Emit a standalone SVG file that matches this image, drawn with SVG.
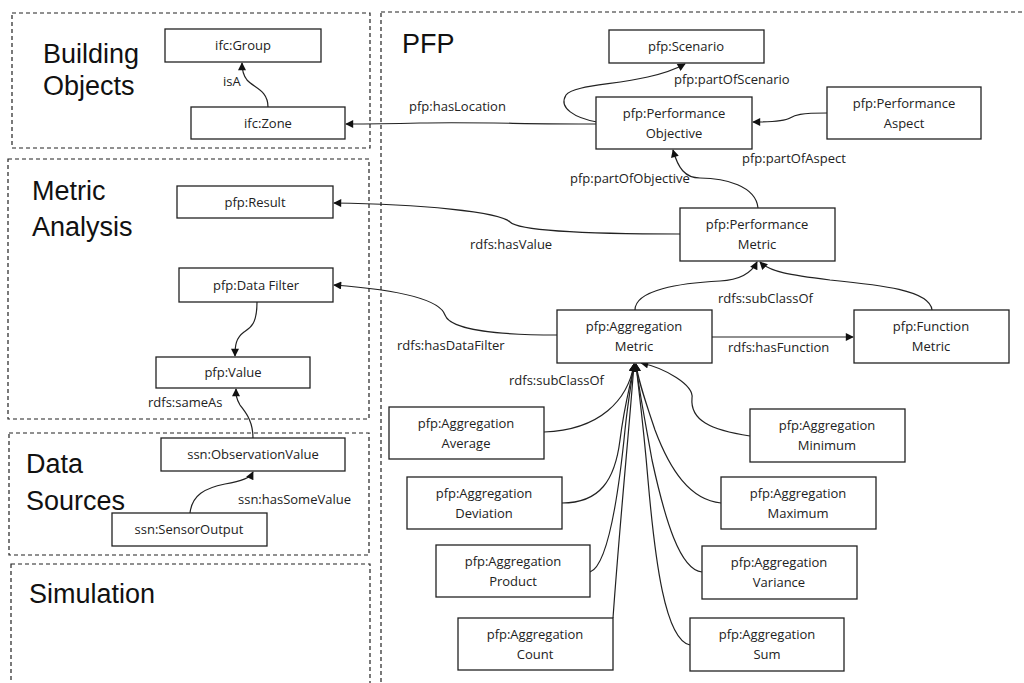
<svg xmlns="http://www.w3.org/2000/svg" width="1024" height="683" viewBox="0 0 1024 683">
<style>
.panel{fill:none;stroke:#222;stroke-width:1.2;stroke-dasharray:4,3}
.title{font-family:"Liberation Sans","Open Sans",sans-serif;font-size:27px;fill:#111}
.box{fill:#fff;stroke:#222;stroke-width:1.3}
.t{font-family:"Open Sans","Liberation Sans",sans-serif;font-size:13px;fill:#222;text-anchor:middle}
.lbl{font-family:"Open Sans","Liberation Sans",sans-serif;font-size:13px;fill:#222}
.c{fill:none;stroke:#222;stroke-width:1.2;marker-end:url(#ah)}
</style>
<defs>
<marker id="ah" viewBox="0 0 10 10" refX="9" refY="5" markerWidth="9" markerHeight="8" markerUnits="userSpaceOnUse" orient="auto">
<path d="M0,0 L10,5 L0,10 Z" fill="#111"/>
</marker>
</defs>
<rect width="1024" height="683" fill="#fff"/>
<g id="panels">
<rect class="panel" x="12" y="13" width="358" height="135"/>
<rect class="panel" x="8" y="159" width="361" height="260"/>
<rect class="panel" x="9" y="433" width="360" height="122"/>
<rect class="panel" x="11" y="564" width="359" height="140"/>
<rect class="panel" x="381" y="12" width="660" height="690"/>
<text class="title" x="43" y="63">Building</text>
<text class="title" x="43" y="95">Objects</text>
<text class="title" x="32" y="200">Metric</text>
<text class="title" x="32" y="236">Analysis</text>
<text class="title" x="26" y="473">Data</text>
<text class="title" x="26" y="510">Sources</text>
<text class="title" x="29" y="603">Simulation</text>
<text class="title" x="402" y="53">PFP</text>
</g>
<g id="connectors">
<path class="c" d="M268,107 C268,90 254,88 247,80 C243,75 242,70 242,63"/>
<path class="c" d="M596,124 C520,124 480,122 420,123 C380,124 360,124 346,124"/>
<path class="c" d="M597,122 C575,118 558,108 566,95 C575,82 645,86 685,64"/>
<path class="c" d="M827,113 C800,113 795,115 790,118 C785,121 770,122 753,122"/>
<path class="c" d="M758,208 C756,186 725,178 700,178 C685,178 678,168 673,150"/>
<path class="c" d="M680,234 C600,234 520,232 510,222 C500,212 420,204 334,203"/>
<path class="c" d="M557,335 C500,335 450,330 445,315 C440,300 400,290 334,285"/>
<path class="c" d="M712,337 L853,337"/>
<path class="c" d="M635,310 C635,290 680,283 720,281 C740,280 752,272 757,262"/>
<path class="c" d="M932,310 C930,290 880,285 830,280 C790,275 770,272 760,262"/>
<path class="c" d="M257,302 C257,325 250,328 244,332 C236,338 235,345 235,356"/>
<path class="c" d="M253,438 C253,420 245,412 240,405 C236,398 236,395 236,389"/>
<path class="c" d="M190,513 C192,495 205,488 225,484 C242,481 250,478 253,472"/>
<path class="c" d="M544,432 C600,430 628,400 634,364"/>
<path class="c" d="M562,503 C600,503 615,480 620,440 C625,400 632,380 634,364"/>
<path class="c" d="M590,572 C610,565 620,480 625,430 C628,400 632,380 634,364"/>
<path class="c" d="M613,618 C620,520 630,420 634,364"/>
<path class="c" d="M750,436 C710,430 690,420 692,398 C694,385 665,368 641,363"/>
<path class="c" d="M721,503 C690,500 670,470 655,430 C645,400 638,380 636,364"/>
<path class="c" d="M702,572 C680,570 665,520 652,460 C645,420 638,385 636,364"/>
<path class="c" d="M690,645 C665,640 655,560 648,480 C643,420 638,385 636,364"/>
<text class="lbl" x="223" y="86">isA</text>
<text class="lbl" x="409" y="111">pfp:hasLocation</text>
<text class="lbl" x="674" y="84">pfp:partOfScenario</text>
<text class="lbl" x="742" y="163">pfp:partOfAspect</text>
<text class="lbl" x="570" y="183">pfp:partOfObjective</text>
<text class="lbl" x="470" y="249">rdfs:hasValue</text>
<text class="lbl" x="718" y="303">rdfs:subClassOf</text>
<text class="lbl" x="397" y="350">rdfs:hasDataFilter</text>
<text class="lbl" x="728" y="352">rdfs:hasFunction</text>
<text class="lbl" x="509" y="385">rdfs:subClassOf</text>
<text class="lbl" x="148" y="407">rdfs:sameAs</text>
<text class="lbl" x="238" y="504">ssn:hasSomeValue</text>
</g>
<g id="ifc-group"><rect class="box" x="165" y="29" width="156" height="33"/><text class="t" x="243" y="50">ifc:Group</text></g>
<g id="ifc-zone"><rect class="box" x="191" y="107" width="154" height="32"/><text class="t" x="268" y="128">ifc:Zone</text></g>
<g id="pfp-scenario"><rect class="box" x="609" y="30" width="155" height="33"/><text class="t" x="686" y="51">pfp:Scenario</text></g>
<g id="pfp-objective"><rect class="box" x="596" y="97" width="156" height="52"/><text class="t" x="674" y="118">pfp:Performance</text><text class="t" x="674" y="138">Objective</text></g>
<g id="pfp-aspect"><rect class="box" x="827" y="87" width="154" height="52"/><text class="t" x="904" y="108">pfp:Performance</text><text class="t" x="904" y="128">Aspect</text></g>
<g id="pfp-result"><rect class="box" x="177" y="186" width="156" height="32"/><text class="t" x="255" y="207">pfp:Result</text></g>
<g id="pfp-perfmetric"><rect class="box" x="680" y="208" width="155" height="53"/><text class="t" x="757" y="229">pfp:Performance</text><text class="t" x="757" y="249">Metric</text></g>
<g id="pfp-datafilter"><rect class="box" x="179" y="268" width="154" height="34"/><text class="t" x="256" y="290">pfp:Data Filter</text></g>
<g id="pfp-aggmetric"><rect class="box" x="557" y="310" width="155" height="53"/><text class="t" x="634" y="331">pfp:Aggregation</text><text class="t" x="634" y="351">Metric</text></g>
<g id="pfp-funcmetric"><rect class="box" x="854" y="310" width="155" height="53"/><text class="t" x="931" y="331">pfp:Function</text><text class="t" x="931" y="351">Metric</text></g>
<g id="pfp-value"><rect class="box" x="156" y="357" width="154" height="31"/><text class="t" x="233" y="377">pfp:Value</text></g>
<g id="ssn-obsvalue"><rect class="box" x="161" y="438" width="184" height="33"/><text class="t" x="253" y="459">ssn:ObservationValue</text></g>
<g id="ssn-sensoroutput"><rect class="box" x="112" y="513" width="155" height="33"/><text class="t" x="189" y="534">ssn:SensorOutput</text></g>
<g id="agg-average"><rect class="box" x="389" y="407" width="155" height="52"/><text class="t" x="466" y="428">pfp:Aggregation</text><text class="t" x="466" y="448">Average</text></g>
<g id="agg-deviation"><rect class="box" x="407" y="477" width="155" height="52"/><text class="t" x="484" y="498">pfp:Aggregation</text><text class="t" x="484" y="518">Deviation</text></g>
<g id="agg-product"><rect class="box" x="436" y="545" width="154" height="52"/><text class="t" x="513" y="566">pfp:Aggregation</text><text class="t" x="513" y="586">Product</text></g>
<g id="agg-count"><rect class="box" x="458" y="618" width="155" height="52"/><text class="t" x="535" y="639">pfp:Aggregation</text><text class="t" x="535" y="659">Count</text></g>
<g id="agg-minimum"><rect class="box" x="750" y="409" width="155" height="53"/><text class="t" x="827" y="430">pfp:Aggregation</text><text class="t" x="827" y="450">Minimum</text></g>
<g id="agg-maximum"><rect class="box" x="721" y="477" width="155" height="52"/><text class="t" x="798" y="498">pfp:Aggregation</text><text class="t" x="798" y="518">Maximum</text></g>
<g id="agg-variance"><rect class="box" x="702" y="546" width="155" height="53"/><text class="t" x="779" y="567">pfp:Aggregation</text><text class="t" x="779" y="587">Variance</text></g>
<g id="agg-sum"><rect class="box" x="690" y="618" width="154" height="53"/><text class="t" x="767" y="639">pfp:Aggregation</text><text class="t" x="767" y="659">Sum</text></g>
</svg>
